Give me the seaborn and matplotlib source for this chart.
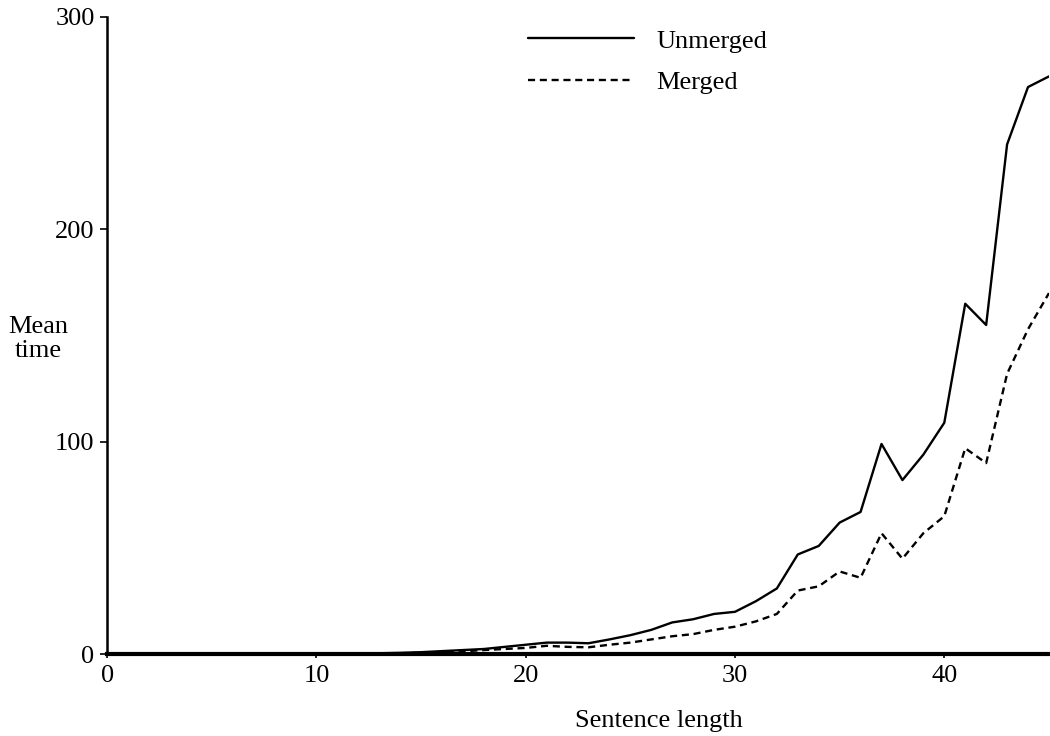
import pandas as pd
import matplotlib
matplotlib.use("Agg")
import matplotlib.pyplot as plt
import seaborn as sns

# sentence lengths and mean times
lengths = list(range(1, 46))
unmerged = [0, 0, 0, 0, 0, 0, 0, 0, 0.05, 0.1,
            0.2, 0.3, 0.5, 0.7, 1.0, 1.5, 2.0, 2.5, 3.5, 4.5,
            5.5, 5.5, 5.2, 7.0, 9.0, 11.5, 15.0, 16.5, 19.0, 20.0,
            25.0, 31.0, 47.0, 51.0, 62.0, 67.0, 99.0, 82.0, 94.0, 109.0,
            165.0, 155.0, 240.0, 267.0, 272.0]
merged = [0, 0, 0, 0, 0, 0, 0, 0, 0.05, 0.1,
          0.15, 0.2, 0.3, 0.5, 0.7, 1.0, 1.4, 2.0, 2.5, 3.0,
          4.0, 3.5, 3.3, 4.5, 5.5, 7.0, 8.5, 9.5, 11.5, 13.0,
          15.5, 19.0, 30.0, 32.0, 39.0, 36.0, 57.0, 45.0, 57.0, 65.0,
          97.0, 90.0, 132.0, 153.0, 170.0]

df = pd.concat([
    pd.DataFrame({"length": lengths, "time": unmerged, "series": "Unmerged"}),
    pd.DataFrame({"length": lengths, "time": merged, "series": "Merged"}),
])

sns.set_style("ticks")
plt.rcParams["font.family"] = ["Liberation Serif", "DejaVu Serif"]
plt.rcParams["text.color"] = "black"

fig = plt.figure(figsize=(10.5, 7.36), dpi=100)
ax = fig.add_axes([0.102, 0.111, 0.897, 0.866])

sns.lineplot(data=df, x="length", y="time", style="series",
             style_order=["Unmerged", "Merged"],
             dashes={"Unmerged": "", "Merged": (3, 2)},
             color="black", linewidth=1.7, ax=ax)

ax.set_xlim(0, 45)
ax.set_ylim(0, 300)
ax.set_xticks([0, 10, 20, 30, 40])
ax.set_yticks([0, 100, 200, 300])
ax.tick_params(labelsize=19, width=1.2, direction="out",
               colors="black", labelcolor="black")
ax.tick_params(axis="x", pad=5, length=3)
ax.tick_params(axis="y", pad=4, length=5)
sns.despine(ax=ax)
ax.spines["bottom"].set_linewidth(3)
ax.spines["left"].set_linewidth(1.8)
ax.spines["bottom"].set_color("black")
ax.spines["left"].set_color("black")

ax.set_xlabel("Sentence length", fontsize=19, color="black")
ax.xaxis.set_label_coords(0.586, -0.087)
ax.set_ylabel("Mean\ntime", fontsize=19, rotation=0, va="center",
              color="black", linespacing=1.15)
ax.yaxis.set_label_coords(-0.073, 0.495)

leg = ax.legend(loc="upper left", bbox_to_anchor=(0.422, 1.018), frameon=False,
                fontsize=19, handlelength=4.0, labelspacing=0.68,
                handletextpad=0.85)
for t in leg.get_texts():
    t.set_color("black")

fig.savefig("out.png", dpi=100)
